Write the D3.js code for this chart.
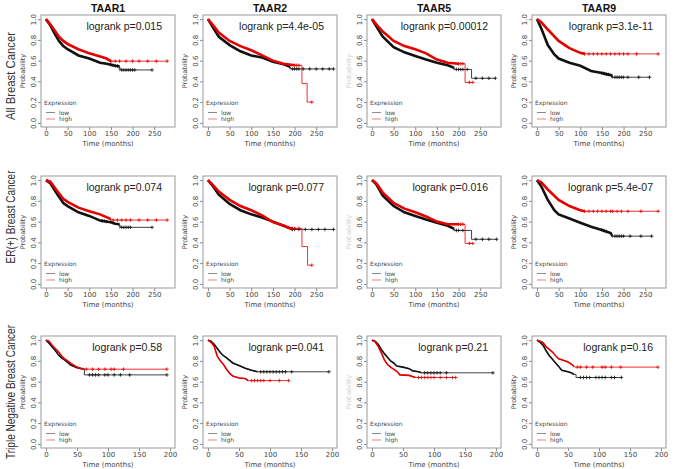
<!DOCTYPE html>
<html>
<head>
<meta charset="utf-8">
<script src="https://cdn.jsdelivr.net/npm/d3@7"></script>
<style>
  body { margin: 0; background: #fff; }
  svg { display: block; }
</style>
</head>
<body>
<svg id="chart" width="676" height="469"></svg>
<script>
const genes = ["TAAR1", "TAAR2", "TAAR5", "TAAR9"];
const cohorts = ["All Breast Cancer", "ER(+) Breast Cancer", "Triple Negative Breast Cancer"];
const pvalues = [
  ["0.015", "4.4e-05", "0.00012", "3.1e-11"],
  ["0.074", "0.077", "0.016", "5.4e-07"],
  ["0.58", "0.041", "0.21", "0.16"]
];
const xTicksLong = [0, 50, 100, 150, 200, 250];
const xTicksShort = [0, 50, 100, 150, 200];
const yTicks = [0, 0.2, 0.4, 0.6, 0.8, 1.0];

// survival curves [months, probability], one per gene
const allLow = [
  [[0,1],[5,0.97],[10,0.94],[20,0.86],[30,0.79],[40,0.74],[50,0.71],[75,0.65],[100,0.62],[125,0.58],[140,0.57],[160,0.55],[170,0.545],[172,0.51],[245,0.51]],
  [[0,1],[10,0.93],[25,0.83],[50,0.75],[75,0.69],[100,0.65],[125,0.63],[150,0.59],[175,0.565],[190,0.54],[192,0.52],[290,0.52]],
  [[0,1],[10,0.93],[25,0.83],[50,0.73],[75,0.68],[100,0.645],[125,0.61],[150,0.58],[175,0.555],[190,0.53],[192,0.515],[230,0.515],[230,0.43],[285,0.43]],
  [[0,1],[10,0.91],[25,0.75],[40,0.66],[50,0.62],[75,0.58],[100,0.55],[125,0.50],[150,0.48],[160,0.47],[172,0.46],[175,0.44],[260,0.44]]
];
const allHigh = [
  [[0,1],[10,0.95],[20,0.89],[30,0.83],[40,0.79],[50,0.76],[75,0.71],[100,0.67],[125,0.64],[140,0.62],[150,0.595],[280,0.595]],
  [[0,1],[10,0.95],[25,0.87],[50,0.79],[75,0.74],[100,0.70],[125,0.65],[150,0.60],[175,0.57],[200,0.555],[217,0.555],[217,0.38],[229,0.38],[229,0.20],[240,0.20]],
  [[0,1],[10,0.95],[25,0.88],[50,0.79],[75,0.74],[100,0.71],[125,0.67],[150,0.61],[175,0.58],[200,0.57],[215,0.57],[215,0.39],[233,0.39]],
  [[0,1],[10,0.97],[25,0.90],[50,0.79],[75,0.72],[100,0.675],[110,0.665],[280,0.665]]
];
const erLow = [
  [[0,1],[10,0.97],[25,0.87],[40,0.78],[50,0.75],[75,0.69],[100,0.655],[125,0.61],[150,0.595],[160,0.58],[170,0.575],[172,0.545],[245,0.545]],
  [[0,1],[10,0.95],[25,0.86],[50,0.77],[75,0.71],[100,0.67],[125,0.64],[150,0.60],[175,0.56],[190,0.535],[195,0.525],[290,0.525]],
  [[0,1],[10,0.96],[25,0.85],[50,0.75],[75,0.69],[100,0.655],[125,0.62],[150,0.59],[175,0.56],[190,0.53],[192,0.515],[230,0.515],[230,0.43],[288,0.43]],
  [[0,1],[10,0.94],[25,0.81],[40,0.71],[50,0.67],[75,0.63],[100,0.59],[125,0.55],[150,0.52],[170,0.49],[175,0.46],[265,0.46]]
];
const erHigh = [
  [[0,1],[10,0.985],[25,0.90],[40,0.82],[50,0.79],[75,0.735],[100,0.70],[125,0.67],[150,0.625],[155,0.615],[280,0.615]],
  [[0,1],[10,0.96],[25,0.89],[50,0.81],[75,0.75],[100,0.71],[125,0.66],[150,0.595],[175,0.56],[190,0.535],[217,0.535],[217,0.36],[230,0.36],[230,0.18],[240,0.18]],
  [[0,1],[10,0.97],[25,0.88],[50,0.78],[75,0.725],[100,0.69],[125,0.65],[150,0.60],[175,0.575],[215,0.575],[215,0.39],[233,0.39]],
  [[0,1],[10,0.98],[25,0.91],[50,0.81],[75,0.75],[100,0.71],[110,0.70],[280,0.70]]
];
const tnLow = [
  [[0,1],[5,0.97],[10,0.935],[15,0.90],[20,0.86],[25,0.83],[30,0.81],[40,0.76],[50,0.735],[58,0.725],[62,0.725],[62,0.665],[195,0.665]],
  [[0,1],[5,0.99],[10,0.96],[15,0.92],[20,0.88],[25,0.85],[30,0.83],[40,0.78],[50,0.755],[60,0.73],[70,0.71],[80,0.695],[195,0.695]],
  [[0,1],[5,0.99],[10,0.96],[15,0.91],[20,0.87],[25,0.835],[30,0.80],[35,0.78],[40,0.75],[50,0.74],[60,0.725],[65,0.705],[75,0.695],[80,0.685],[195,0.685]],
  [[0,1],[5,0.98],[10,0.95],[15,0.895],[20,0.85],[25,0.815],[30,0.78],[35,0.745],[40,0.71],[50,0.695],[55,0.685],[60,0.67],[63,0.67],[63,0.64],[136,0.64]]
];
const tnHigh = [
  [[0,1],[5,0.99],[10,0.95],[15,0.92],[20,0.89],[25,0.85],[30,0.82],[35,0.80],[40,0.775],[50,0.74],[55,0.73],[60,0.72],[195,0.72]],
  [[0,1],[5,0.98],[10,0.94],[15,0.845],[20,0.80],[25,0.765],[30,0.72],[35,0.68],[40,0.655],[50,0.635],[60,0.63],[65,0.61],[130,0.61]],
  [[0,1],[5,0.985],[10,0.94],[15,0.88],[20,0.81],[25,0.765],[30,0.74],[40,0.70],[45,0.665],[60,0.66],[70,0.64],[135,0.64]],
  [[0,1],[5,0.99],[10,0.975],[15,0.935],[20,0.91],[25,0.885],[30,0.85],[35,0.82],[40,0.81],[50,0.79],[55,0.77],[60,0.745],[62,0.74],[195,0.74]]
];

// censored observations (months)
const allLowCens = [
  [150,155,160,165,175,180,185,190,195,200,205,245],
  [195,200,205,210,220,235,250,265,280,290],
  [195,200,205,210,220,240,255,270,285],
  [150,155,160,165,180,185,190,195,200,210,235,260]
];
const allHighCens = [
  [150,160,170,185,200,215,235,255,280],
  [200,205,210,240],
  [200,205,210,225,233],
  [110,120,130,140,150,160,170,180,190,200,210,230,280]
];
const erLowCens = [
  [130,135,140,150,155,175,180,185,190,195,245],
  [195,200,210,225,240,255,270,290],
  [195,200,210,240,255,270,288],
  [150,155,160,180,185,190,195,200,215,240,265]
];
const erHighCens = [
  [155,165,175,185,195,215,235,255,280],
  [195,200,210,240],
  [200,205,210,225,233],
  [110,120,130,140,150,160,170,175,185,195,210,240,280]
];
const tnLowCens = [
  [70,75,80,85,95,100,110,120,135,195],
  [85,90,95,100,105,110,115,120,125,135,195],
  [85,90,95,100,105,110,120,195],
  [70,75,80,85,95,100,105,110,120,125,136]
];
const tnHighCens = [
  [65,75,85,95,105,110,125,195],
  [70,75,80,85,90,100,115,130],
  [75,80,85,90,95,100,110,120,130,135],
  [65,70,80,90,105,110,120,135,195]
];
// time up to which censoring is so dense the curve looks thick
const allLowDense = [170, 190, 190, 175];
const allHighDense = [150, 200, 200, 110];
const erLowDense = [170, 195, 190, 175];
const erHighDense = [150, 195, 200, 110];
const tnLowDense = [60, 80, 80, 60];
const tnHighDense = [60, 65, 70, 60];

const lowCurves = [allLow, erLow, tnLow];
const highCurves = [allHigh, erHigh, tnHigh];
const lowCens = [allLowCens, erLowCens, tnLowCens];
const highCens = [allHighCens, erHighCens, tnHighCens];
const lowDense = [allLowDense, erLowDense, tnLowDense];
const highDense = [allHighDense, erHighDense, tnHighDense];

const colLeft = [41, 203, 367, 532],
      rowTop = [15, 176, 336],
      rowLabelY = [76, 217, 392],
      rowLabelLen = [88, 93, 134],
      boxW = 134,
      boxH = 112;

const lowColor = "#111",
    highColor = "#e60000";

const svg = d3.select("#chart");
const defs = svg.append("defs");

cohorts.forEach(function(name, r) {
  svg.append("text")
    .attr("transform", "translate(14.5," + rowLabelY[r] + ") rotate(-90)")
    .attr("text-anchor", "middle")
    .attr("textLength", rowLabelLen[r])
    .attr("lengthAdjust", "spacingAndGlyphs")
    .style("font-family", "Liberation Sans, Arial, sans-serif")
    .style("font-size", "12px")
    .attr("fill", "#333")
    .text(name);
  genes.forEach(function(g, c) { drawPanel(r, c); });
});

function valueAt(curve, t) {
  const i = d3.bisector(d => d[0]).right(curve, t) - 1;
  if (i >= curve.length - 1) return curve[curve.length - 1][1];
  const a = curve[i], b = curve[i + 1];
  if (b[0] === a[0]) return b[1];
  return a[1] + (b[1] - a[1]) * (t - a[0]) / (b[0] - a[0]);
}

function drawPanel(r, c) {
  const L = colLeft[c], T = rowTop[r];
  const g = svg.append("g");

  const x = d3.scaleLinear()
    .domain(r < 2 ? [-11.5, 298] : [-8, 208])
    .range([L, L + boxW]);
  const y = d3.scaleLinear()
    .domain([-0.04, 1.04])
    .range([T + boxH, T]);

  if (r === 0) {
    g.append("text")
      .attr("x", L + boxW / 2).attr("y", 12)
      .attr("text-anchor", "middle")
      .style("font-family", "Liberation Sans, Arial, sans-serif")
      .style("font-size", "10.5px").style("font-weight", "bold")
      .attr("fill", "#111")
      .text(genes[c]);
  }

  // axes
  const xAxis = d3.axisBottom(x)
    .tickValues(r < 2 ? xTicksLong : xTicksShort)
    .tickSize(3).tickPadding(1.5);
  const gx = g.append("g")
    .attr("transform", "translate(0," + (T + boxH) + ")")
    .call(xAxis);
  gx.select(".domain").remove();
  gx.selectAll("line").attr("stroke", "#888");
  gx.selectAll("text")
    .style("font-family", "DejaVu Sans, sans-serif")
    .style("font-size", "7px").attr("fill", "#444");

  const yAxis = d3.axisLeft(y)
    .tickValues(yTicks)
    .tickSize(3)
    .tickFormat(d3.format(".1f"));
  const gy = g.append("g")
    .attr("transform", "translate(" + L + ",0)")
    .call(yAxis);
  gy.select(".domain").remove();
  gy.selectAll("line").attr("stroke", "#888");
  gy.selectAll("text")
    .attr("x", 0).attr("dy", 0)
    .attr("transform", "translate(-5.5,0) rotate(-90)")
    .attr("text-anchor", "middle")
    .style("font-family", "DejaVu Sans, sans-serif")
    .style("font-size", "7px").attr("fill", "#444");

  g.append("text")
    .attr("x", L + boxW / 2).attr("y", T + boxH + 19)
    .attr("text-anchor", "middle")
    .style("font-family", "DejaVu Sans, sans-serif")
    .style("font-size", "7px").attr("fill", "#444")
    .text("Time (months)");

  g.append("text")
    .attr("transform", "translate(" + (L - 16.5) + "," + (T + boxH / 2) + ") rotate(-90)")
    .attr("text-anchor", "middle")
    .style("font-family", "DejaVu Sans, sans-serif")
    .style("font-size", "6.5px").attr("fill", "#444")
    .attr("opacity", c === 2 ? 0.25 : 1)
    .text("Probability");

  // curves
  const line = d3.line()
    .x(d => x(d[0]))
    .y(d => y(d[1]));

  const series = [
    {curve: lowCurves[r][c], cens: lowCens[r][c], dense: lowDense[r][c], color: lowColor},
    {curve: highCurves[r][c], cens: highCens[r][c], dense: highDense[r][c], color: highColor}
  ];

  series.forEach(function(s, k) {
    const clipId = "clip-" + r + "-" + c + "-" + k;
    defs.append("clipPath").attr("id", clipId)
      .append("rect")
        .attr("x", L).attr("y", T)
        .attr("width", x(s.dense) - L).attr("height", boxH);

    g.append("path")
      .datum(s.curve)
      .attr("d", line)
      .attr("fill", "none")
      .attr("stroke", s.color)
      .attr("stroke-width", 0.8);

    g.append("path")
      .datum(s.curve)
      .attr("d", line)
      .attr("clip-path", "url(#" + clipId + ")")
      .attr("fill", "none")
      .attr("stroke", s.color)
      .attr("stroke-width", r < 2 ? 2.6 : 1.6);

    g.selectAll(".cens-" + k)
      .data(s.cens)
      .enter().append("path")
        .attr("class", "cens-" + k)
        .attr("transform", d => "translate(" + x(d) + "," + y(valueAt(s.curve, d)) + ")")
        .attr("d", "M-1.8,0H1.8M0,-1.8V1.8")
        .attr("stroke", s.color)
        .attr("stroke-width", 0.8);
  });

  // box
  g.append("rect")
    .attr("x", L).attr("y", T)
    .attr("width", boxW).attr("height", boxH)
    .attr("fill", "none")
    .attr("stroke", "#999")
    .attr("stroke-width", 1);

  // logrank
  g.append("text")
    .attr("x", L + boxW - 13).attr("y", T + 14.5)
    .attr("text-anchor", "end")
    .style("font-family", "Liberation Sans, Arial, sans-serif")
    .style("font-size", "10.5px").attr("fill", "#222")
    .text("logrank p=" + pvalues[r][c]);

  // legend
  const lg = g.append("g")
    .style("font-family", "DejaVu Sans, sans-serif")
    .style("font-size", "6px");
  lg.append("text")
    .attr("x", L + 3).attr("y", T + boxH - 22)
    .attr("fill", "#444")
    .text("Expression");
  [["low", lowColor, 12.5], ["high", highColor, 6]].forEach(function(e) {
    lg.append("line")
      .attr("x1", L + 5).attr("x2", L + 14)
      .attr("y1", T + boxH - e[2] - 2).attr("y2", T + boxH - e[2] - 2)
      .attr("stroke", e[1]).attr("stroke-width", 0.7).attr("opacity", 0.7);
    lg.append("text")
      .attr("x", L + 18).attr("y", T + boxH - e[2])
      .attr("fill", "#444")
      .text(e[0]);
  });
}
</script>
</body>
</html>
